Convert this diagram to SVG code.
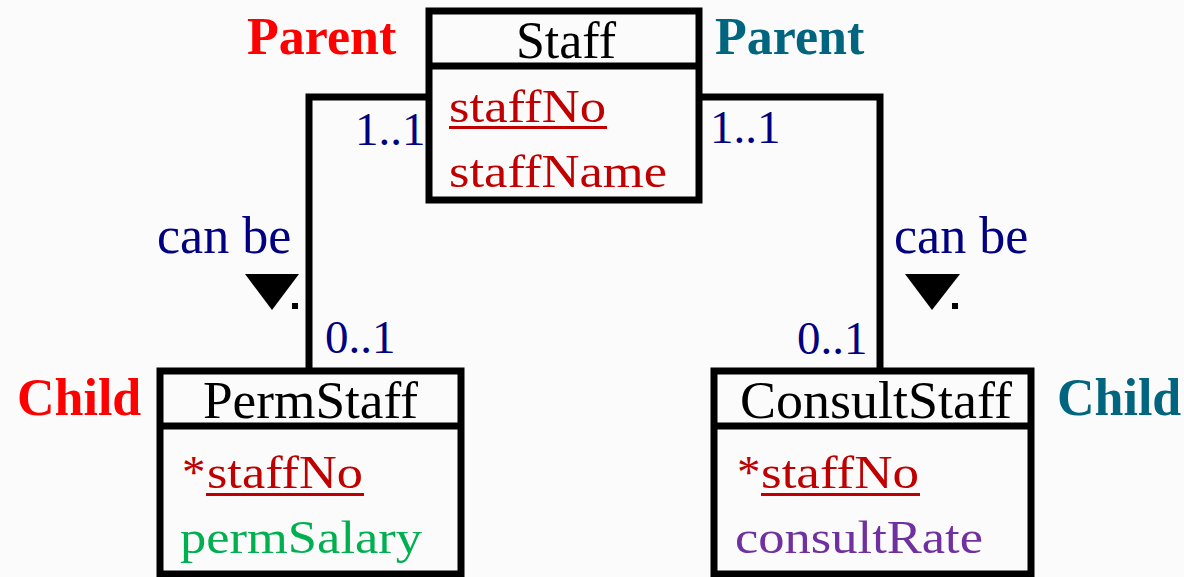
<svg xmlns="http://www.w3.org/2000/svg" width="1184" height="577" viewBox="0 0 1184 577">
<style>
.box{fill:none;stroke:#000;stroke-width:7;stroke-linejoin:miter}
.conn{fill:none;stroke:#000;stroke-width:7;stroke-linejoin:miter;stroke-linecap:butt}
.t{font-family:"Liberation Serif","Times New Roman",serif}
.role{font-size:52px;font-weight:bold}
.red{fill:#FF0000}
.teal{fill:#02657F}
.title{font-size:52px;fill:#000}
.attr{font-size:47px}
.key{fill:#C00000}
.ul{stroke:#C00000;stroke-width:3}
.navy{fill:#000080}
.mult{font-size:47px}
.lbl{font-size:52px}
</style>
<rect x="0" y="0" width="1184" height="577" fill="#FBFBFB"/>
<g id="connectors">
  <polyline class="conn" points="432,97 309,97 309,371"/>
  <polyline class="conn" points="699,97 880,97 880,371"/>
  <polygon points="245,274 299,274 272,310" fill="#000"/>
  <rect x="292" y="303" width="6" height="6" fill="#000"/>
  <polygon points="905,274 960,274 932,310" fill="#000"/>
  <rect x="952" y="303" width="6" height="6" fill="#000"/>
  <text class="t mult navy" x="355" y="145">1..1</text>
  <text class="t mult navy" x="710" y="143">1..1</text>
  <text class="t mult navy" x="325" y="353">0..1</text>
  <text class="t mult navy" x="797" y="354">0..1</text>
  <text class="t lbl navy" x="157" y="253">can be</text>
  <text class="t lbl navy" x="894" y="253">can be</text>
</g>
<g id="staff">
  <rect class="box" x="429" y="11" width="270" height="189"/>
  <line class="box" x1="429" y1="66" x2="699" y2="66"/>
  <text class="t title" x="566" y="58" text-anchor="middle">Staff</text>
  <text class="t attr key" x="449" y="122" textLength="157" lengthAdjust="spacingAndGlyphs">staffNo</text>
  <line class="ul" x1="449" y1="127.5" x2="607" y2="127.5"/>
  <text class="t attr key" x="449" y="187" textLength="218" lengthAdjust="spacingAndGlyphs">staffName</text>
</g>
<g id="staff-roles">
  <text class="t role red" x="247" y="54">Parent</text>
  <text class="t role teal" x="715" y="54">Parent</text>
</g>
<g id="permstaff">
  <rect class="box" x="160" y="371" width="301" height="203"/>
  <line class="box" x1="160" y1="426" x2="461" y2="426"/>
  <text class="t title" x="203" y="418" textLength="215" lengthAdjust="spacingAndGlyphs">PermStaff</text>
  <text class="t attr key" x="182" y="488">*</text>
  <text class="t attr key" x="207" y="488" textLength="156" lengthAdjust="spacingAndGlyphs">staffNo</text>
  <line class="ul" x1="206" y1="494.5" x2="364" y2="494.5"/>
  <text class="t attr" x="180" y="553" fill="#00B050" textLength="242" lengthAdjust="spacingAndGlyphs">permSalary</text>
  <text class="t role red" x="17" y="415">Child</text>
</g>
<g id="consultstaff">
  <rect class="box" x="714" y="371" width="317" height="203"/>
  <line class="box" x1="714" y1="426" x2="1031" y2="426"/>
  <text class="t title" x="740" y="418" textLength="272" lengthAdjust="spacingAndGlyphs">ConsultStaff</text>
  <text class="t attr key" x="737" y="488">*</text>
  <text class="t attr key" x="761" y="488" textLength="158" lengthAdjust="spacingAndGlyphs">staffNo</text>
  <line class="ul" x1="761" y1="494.5" x2="920" y2="494.5"/>
  <text class="t attr" x="735" y="553" fill="#7030A0" textLength="248" lengthAdjust="spacingAndGlyphs">consultRate</text>
  <text class="t role teal" x="1057" y="415">Child</text>
</g>
</svg>
